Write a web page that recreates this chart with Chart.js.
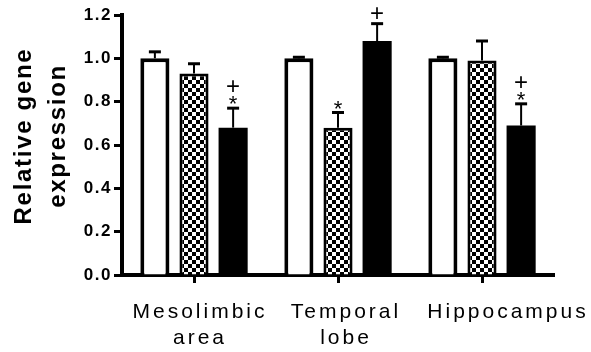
<!DOCTYPE html>
<html>
<head>
<meta charset="utf-8">
<script src="https://cdn.jsdelivr.net/npm/chart.js@4/dist/chart.umd.min.js"></script>
<style>
  html, body { margin: 0; padding: 0; background: #fff; }
  #chart { display: block; }
</style>
</head>
<body>
<canvas id="chart" width="591" height="352"></canvas>
<script>
const categories = [["Mesolimbic", "area"], ["Temporal", "lobe"], ["Hippocampus"]];
const yTitle = ["Relative gene", "expression"];
const yMin = 0;
const yMax = 1.2;
const yStep = 0.2;

const controlMeans = [1.0, 1.0, 1.0];
const controlErr = [0.03, 0.005, 0.005];
const checkMeans = [0.93, 0.68, 0.99];
const checkErr = [0.045, 0.07, 0.09];
const solidMeans = [0.68, 1.08, 0.69];
const solidErr = [0.09, 0.08, 0.10];

// significance marks, bottom to top
const controlMarks = [[], [], []];
const checkMarks = [[], ["*"], []];
const solidMarks = [["*", "+"], ["+"], ["*", "+"]];

const FONT = "'Liberation Sans', Arial, sans-serif";

function checkerPattern() {
  const c = document.createElement("canvas");
  c.width = 8;
  c.height = 8;
  const g = c.getContext("2d");
  g.fillStyle = "#000";
  g.fillRect(0, 0, 8, 8);
  g.fillStyle = "#fff";
  g.fillRect(0, 0, 4, 4);
  g.fillRect(4, 4, 4, 4);
  return g.createPattern(c, "repeat");
}

const errorBars = {
  id: "errorBars",
  afterDatasetsDraw(chart) {
    const ctx = chart.ctx;
    const y = chart.scales.y;
    ctx.save();
    ctx.strokeStyle = "#000";
    chart.data.datasets.forEach((ds, di) => {
      chart.getDatasetMeta(di).data.forEach((bar, i) => {
        const top = y.getPixelForValue(ds.data[i] + ds.errors[i]);
        ctx.lineWidth = 2;
        ctx.beginPath();
        ctx.moveTo(bar.x, bar.y);
        ctx.lineTo(bar.x, top);
        ctx.stroke();
        ctx.lineWidth = 3;
        ctx.beginPath();
        ctx.moveTo(bar.x - 6, top);
        ctx.lineTo(bar.x + 6, top);
        ctx.stroke();

        // * sits just over the cap, + above it
        ctx.fillStyle = "#000";
        ctx.textAlign = "center";
        ctx.textBaseline = "alphabetic";
        ctx.letterSpacing = "0px";
        let base = top;
        ds.marks[i].forEach((m) => {
          if (m === "*") {
            ctx.font = "22px " + FONT;
            ctx.fillText(m, bar.x, base + 3);
            base -= 11;
          } else {
            ctx.font = "24px " + FONT;
            ctx.fillText(m, bar.x, base - 3);
            base -= 12;
          }
        });
      });
    });
    ctx.restore();
  },
};

const axisText = {
  id: "axisText",
  beforeDraw(chart) {
    chart.ctx.letterSpacing = "1.5px";
  },
  afterDraw(chart) {
    const ctx = chart.ctx;
    const xs = chart.scales.x;
    const shift = [6, 8, 26];
    ctx.save();
    ctx.fillStyle = "#000";
    ctx.textAlign = "center";
    ctx.textBaseline = "alphabetic";
    ctx.font = "21px " + FONT;
    ctx.letterSpacing = "3px";
    categories.forEach((lines, i) => {
      const cx = xs.getPixelForValue(i) + shift[i];
      lines.forEach((t, j) => ctx.fillText(t, cx, 318 + j * 26));
    });

    ctx.font = "bold 24px " + FONT;
    ctx.letterSpacing = "1.7px";
    ctx.translate(31, 136);
    ctx.rotate(-Math.PI / 2);
    yTitle.forEach((t, j) => ctx.fillText(t, 0, j * 34));
    ctx.restore();
  },
};

const ctx = document.getElementById("chart").getContext("2d");
const pattern = checkerPattern();

new Chart(ctx, {
  type: "bar",
  data: {
    labels: categories,
    datasets: [
      {
        label: "Control",
        data: controlMeans,
        errors: controlErr,
        marks: controlMarks,
        backgroundColor: "#fff",
        borderColor: "#000",
        borderWidth: 4,
      },
      {
        label: "Group B",
        data: checkMeans,
        errors: checkErr,
        marks: checkMarks,
        backgroundColor: pattern,
        borderColor: "#000",
        borderWidth: 3,
      },
      {
        label: "Group C",
        data: solidMeans,
        errors: solidErr,
        marks: solidMarks,
        backgroundColor: "#000",
        borderColor: "#000",
        borderWidth: 0,
      },
    ],
  },
  options: {
    responsive: false,
    animation: false,
    devicePixelRatio: 1,
    categoryPercentage: 0.815,
    barPercentage: 0.744,
    layout: { padding: { top: 15, right: 37, bottom: 0, left: 0 } },
    plugins: {
      legend: { display: false },
      tooltip: { enabled: false },
    },
    scales: {
      x: {
        offset: true,
        grid: {
          offset: false,
          drawOnChartArea: false,
          tickLength: 8,
          tickWidth: 3,
          tickColor: "#000",
        },
        border: { color: "#000", width: 4 },
        ticks: { display: false },
        afterFit(scale) {
          scale.height = 77;
        },
      },
      y: {
        min: yMin,
        max: yMax,
        grid: {
          drawOnChartArea: false,
          tickLength: 8,
          tickWidth: 3,
          tickColor: "#000",
        },
        border: { color: "#000", width: 4 },
        ticks: {
          stepSize: yStep,
          padding: 2,
          color: "#000",
          font: { family: FONT, size: 17, weight: "bold" },
          callback: (v) => v.toFixed(1),
        },
        afterFit(scale) {
          scale.width = 122;
        },
      },
    },
  },
  plugins: [errorBars, axisText],
});
</script>
</body>
</html>
